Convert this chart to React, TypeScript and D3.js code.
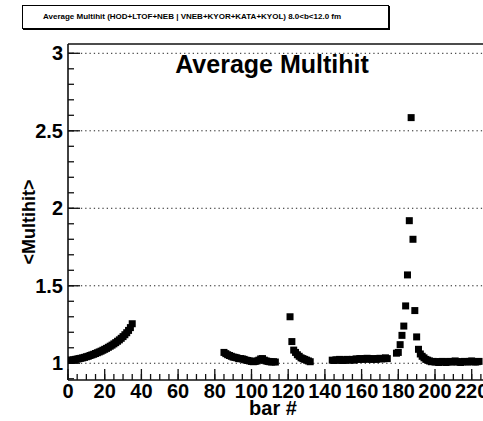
import React from "react";
import * as d3 from "d3";

// ---- data ----
const seg1Start = 1;
const seg1Values = [1.02, 1.02, 1.022, 1.025, 1.027, 1.03, 1.032, 1.035, 1.038, 1.042, 1.045, 1.05, 1.054, 1.058, 1.063, 1.068, 1.073, 1.078, 1.084, 1.09, 1.096, 1.103, 1.11, 1.117, 1.125, 1.133, 1.142, 1.151, 1.161, 1.172, 1.184, 1.197, 1.212, 1.23, 1.255];

const seg2Start = 85;
const seg2Values = [1.07, 1.062, 1.055, 1.05, 1.045, 1.04, 1.038, 1.035, 1.03, 1.03, 1.028, 1.025, 1.02, 1.018, 1.015, 1.012, 1.01, 1.012, 1.015, 1.02, 1.028, 1.03, 1.02, 1.015, 1.012, 1.01, 1.008, 1.01, 1.008];

const seg3Start = 121;
const seg3Values = [1.30, 1.14, 1.085, 1.07, 1.055, 1.045, 1.035, 1.03, 1.025, 1.02, 1.015, 1.01];

const seg4Start = 144;
const seg4Values = [1.02, 1.018, 1.022, 1.02, 1.025, 1.02, 1.018, 1.022, 1.025, 1.02, 1.022, 1.025, 1.02, 1.028, 1.025, 1.03, 1.028, 1.025, 1.03, 1.032, 1.028, 1.025, 1.03, 1.028, 1.025, 1.03, 1.032, 1.028, 1.03, 1.035, 1.03];

const seg5Start = 179;
const seg5Values = [1.065, 1.07, 1.12, 1.18, 1.24, 1.37, 1.57, 1.92, 2.585, 1.80, 1.34, 1.17, 1.09, 1.06, 1.045, 1.035, 1.025, 1.02, 1.015, 1.01, 1.012, 1.008, 1.01, 1.005, 1.01, 1.012, 1.008, 1.005, 1.01, 1.012, 1.008, 1.01, 1.015, 1.01, 1.008, 1.005, 1.01, 1.012, 1.01, 1.008, 1.012, 1.015, 1.01, 1.008, 1.01, 1.012];

const xTicks = [0, 20, 40, 60, 80, 100, 120, 140, 160, 180, 200, 220];
const yTicks = [1, 1.5, 2, 2.5, 3];

const boxTitle = "Average Multihit (HOD+LTOF+NEB | VNEB+KYOR+KATA+KYOL)  8.0<b<12.0 fm";
const plotTitle = "Average Multihit";
const xTitle = "bar #";
const yTitle = "<Multihit>";

const segments = [
  { start: seg1Start, values: seg1Values },
  { start: seg2Start, values: seg2Values },
  { start: seg3Start, values: seg3Values },
  { start: seg4Start, values: seg4Values },
  { start: seg5Start, values: seg5Values },
];

const W = 483;
const H = 421;
const FONT = "'Liberation Sans', Arial, Helvetica, sans-serif";

export default function App() {
  const left = 68;
  const top = 44;
  const bottom = 380;
  const xMax = 228;
  const x = d3.scaleLinear().domain([0, xMax]).range([left, left + xMax * 1.835]);
  const y = d3.scaleLinear().domain([0.892, 3.06]).range([bottom, top]);
  const right = x(xMax);

  const points: { b: number; v: number }[] = [];
  segments.forEach((s) => s.values.forEach((v, i) => points.push({ b: s.start + i, v })));

  const xMinor = d3.range(0, xMax + 0.001, 5);
  const yMinor = d3.range(0.9, 3.06, 0.1);
  const ms = 7;

  return (
    <svg width={W} height={H} style={{ position: "absolute", left: 0, top: 0, background: "#fff" }} fontFamily={FONT}>
      <rect x={0} y={0} width={W} height={H} fill="#fff" />
      {/* title box */}
      <rect x={22.5} y={5.5} width={366} height={23} fill="#fff" stroke="#000" strokeWidth={1} />
      <line x1={23} y1={29.5} x2={390} y2={29.5} stroke="#000" strokeWidth={1} />
      <line x1={389.5} y1={6} x2={389.5} y2={30} stroke="#000" strokeWidth={1} />
      <text x={43} y={19} fontSize={8} fontWeight="bold">{boxTitle}</text>

      <defs>
        <clipPath id="plotclip">
          <rect x={left} y={top} width={right - left} height={bottom - top} />
        </clipPath>
      </defs>

      {/* grid */}
      {yTicks.map((t) => (
        <line key={"g" + t} x1={left} x2={right} y1={y(t)} y2={y(t)} stroke="#222" strokeWidth={1} strokeDasharray="1.3 3" />
      ))}

      {/* frame */}
      <line x1={left} x2={right} y1={top} y2={top} stroke="#111" strokeWidth={1.6} />
      <line x1={left} x2={left} y1={top} y2={bottom} stroke="#111" strokeWidth={1.6} />
      <line x1={left} x2={right} y1={bottom} y2={bottom} stroke="#111" strokeWidth={1.6} />

      {/* y ticks */}
      {yMinor.map((t, i) => (
        <line key={"ym" + i} x1={left} x2={left + 6} y1={y(t)} y2={y(t)} stroke="#111" strokeWidth={1.3} />
      ))}
      {yTicks.map((t) => (
        <line key={"yM" + t} x1={left} x2={left + 12} y1={y(t)} y2={y(t)} stroke="#111" strokeWidth={1.3} />
      ))}
      {yTicks.map((t) => (
        <text key={"yl" + t} x={left - 5} y={y(t) + 7} fontSize={20} fontWeight="bold" textAnchor="end">{String(t)}</text>
      ))}

      {/* x ticks */}
      {xMinor.map((t, i) => (
        <line key={"xm" + i} x1={x(t)} x2={x(t)} y1={bottom} y2={bottom - 6} stroke="#111" strokeWidth={1.3} />
      ))}
      {xTicks.map((t) => (
        <line key={"xM" + t} x1={x(t)} x2={x(t)} y1={bottom} y2={bottom - 11} stroke="#111" strokeWidth={1.3} />
      ))}
      {xTicks.map((t) => (
        <text key={"xl" + t} x={x(t)} y={398} fontSize={20} fontWeight="bold" textAnchor="middle">{String(t)}</text>
      ))}

      {/* markers */}
      <g clipPath="url(#plotclip)">
        {points.map((p, i) => (
          <rect key={"p" + i} x={x(p.b) - ms / 2} y={y(p.v) - ms / 2} width={ms} height={ms} fill="#000" />
        ))}
      </g>

      {/* titles */}
      <text x={272} y={73} fontSize={25} fontWeight="bold" textAnchor="middle">{plotTitle}</text>
      <text x={273} y={415} fontSize={20} fontWeight="bold" textAnchor="middle">{xTitle}</text>
      <text transform={`translate(35, ${222}) rotate(-90)`} fontSize={18} fontWeight="bold" textAnchor="middle">{yTitle}</text>
    </svg>
  );
}
